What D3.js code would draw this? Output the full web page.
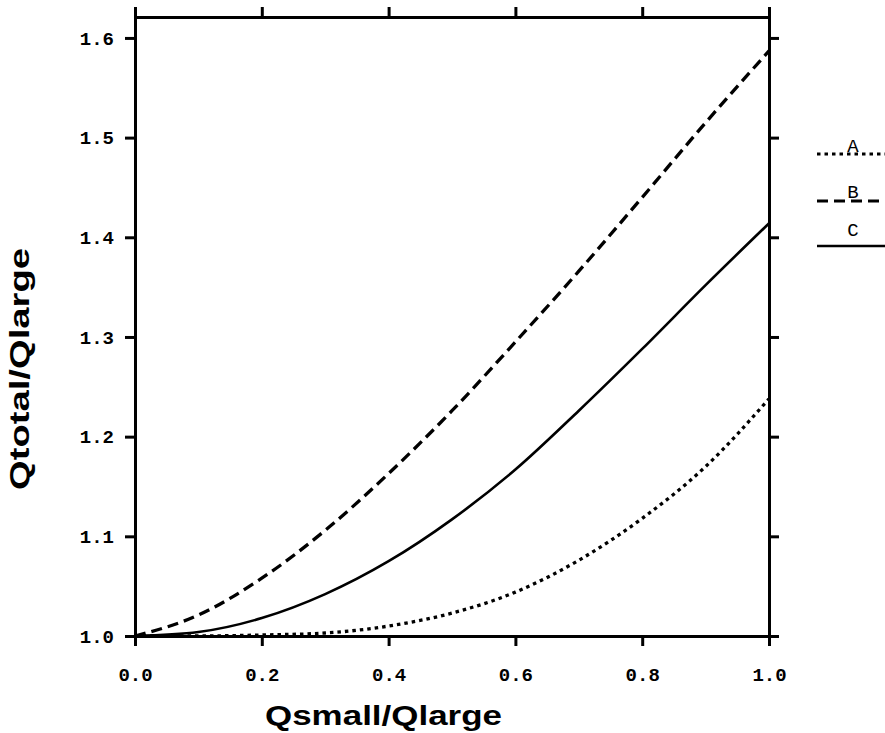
<!DOCTYPE html>
<html>
<head>
<meta charset="utf-8">
<script src="https://cdn.jsdelivr.net/npm/d3@7"></script>
<style>
  body { margin: 0; background: #fff; }
  svg { display: block; }
  .title { font-family: "Liberation Sans", Arial, sans-serif; font-weight: bold; font-size: 27px; fill: #000; }
</style>
</head>
<body>
<svg id="chart" width="885" height="733"></svg>
<script>
// Qsmall/Qlarge sample points
const qRatio = [0, 0.1, 0.2, 0.3, 0.4, 0.5, 0.6, 0.7, 0.8, 0.9, 1.0];

// Qtotal/Qlarge
const seriesA = [1.000, 1.000, 1.001, 1.003, 1.010, 1.023, 1.044, 1.076, 1.118, 1.170, 1.238];
const seriesB = [1.000, 1.021, 1.058, 1.106, 1.163, 1.226, 1.295, 1.366, 1.440, 1.515, 1.587];
const seriesC = [1.000, 1.004, 1.018, 1.042, 1.075, 1.117, 1.167, 1.226, 1.288, 1.352, 1.414];

const xTicks = [0.0, 0.2, 0.4, 0.6, 0.8, 1.0];
const yTicks = [1.0, 1.1, 1.2, 1.3, 1.4, 1.5, 1.6];
const seriesNames = ["A", "B", "C"];

const monoFont = '"Liberation Mono", "DejaVu Sans Mono", monospace';

const svg = d3.select("#chart");

const plot = { left: 135, right: 769, top: 17, bottom: 636 };

const x = d3.scaleLinear().domain([0, 1]).range([plot.left, plot.right]);
const y = d3.scaleLinear().domain([1.0, 1.621]).range([plot.bottom, plot.top]);

const dashes = d3.scaleOrdinal()
    .domain(seriesNames)
    .range(["3.5,4", "11,6", null]);

const series = [seriesA, seriesB, seriesC];

const line = d3.line()
    .x(d => x(d[0]))
    .y(d => y(d[1]))
    .curve(d3.curveMonotoneX);

svg.append("g")
    .selectAll("path")
    .data(series)
    .join("path")
    .attr("d", vals => line(qRatio.map((q, i) => [q, vals[i]])))
    .attr("fill", "none")
    .attr("stroke", "#000")
    .attr("stroke-width", (d, i) => i === 2 ? 2.6 : 3.3)
    .attr("stroke-dasharray", (d, i) => dashes(seriesNames[i]));

// frame with ticks on all four sides
function styleAxis(g) {
    g.selectAll(".domain").attr("stroke", "#000").attr("stroke-width", 3);
    g.selectAll(".tick line").attr("stroke", "#000").attr("stroke-width", 3);
    g.selectAll(".tick text")
        .style("font-family", monoFont)
        .style("font-weight", "bold")
        .style("font-size", "19px")
        .attr("fill", "#000");
}

svg.append("g")
    .attr("transform", `translate(0,${plot.bottom})`)
    .call(d3.axisBottom(x).tickValues(xTicks).tickFormat(d3.format(".1f"))
        .tickSize(10).tickSizeOuter(0).tickPadding(22))
    .call(styleAxis);

svg.append("g")
    .attr("transform", `translate(0,${plot.top})`)
    .call(d3.axisTop(x).tickValues(xTicks).tickFormat("").tickSize(10).tickSizeOuter(0))
    .call(styleAxis);

svg.append("g")
    .attr("transform", `translate(${plot.left},0)`)
    .call(d3.axisLeft(y).tickValues(yTicks).tickFormat(d3.format(".1f"))
        .tickSize(10).tickSizeOuter(0).tickPadding(11))
    .call(styleAxis);

svg.append("g")
    .attr("transform", `translate(${plot.right},0)`)
    .call(d3.axisRight(y).tickValues(yTicks).tickFormat("").tickSize(10).tickSizeOuter(0))
    .call(styleAxis);

svg.selectAll(".domain").attr("stroke-linecap", "square");

// axis titles
svg.append("text")
    .attr("class", "title")
    .attr("x", 265)
    .attr("y", 725)
    .attr("textLength", 237)
    .attr("lengthAdjust", "spacingAndGlyphs")
    .text("Qsmall/Qlarge");

svg.append("text")
    .attr("class", "title")
    .attr("transform", "translate(29,490) rotate(-90)")
    .attr("textLength", 242)
    .attr("lengthAdjust", "spacingAndGlyphs")
    .text("Qtotal/Qlarge");

// legend
const legendY = d3.scaleOrdinal().domain(seriesNames).range([154, 201, 246]);
const labelY = d3.scaleOrdinal().domain(seriesNames).range([152, 198, 236]);

const legend = svg.append("g");

const items = legend.selectAll("g")
    .data(seriesNames)
    .join("g");

items.append("line")
    .attr("x1", 817)
    .attr("x2", 885)
    .attr("y1", d => legendY(d))
    .attr("y2", d => legendY(d))
    .attr("stroke", "#000")
    .attr("stroke-width", d => d === "C" ? 2.4 : 3)
    .attr("stroke-dasharray", d => dashes(d));

items.append("text")
    .attr("x", 853)
    .attr("y", d => labelY(d))
    .attr("text-anchor", "middle")
    .style("font-family", monoFont)
    .style("font-size", "19px")
    .text(d => d);
</script>
</body>
</html>
